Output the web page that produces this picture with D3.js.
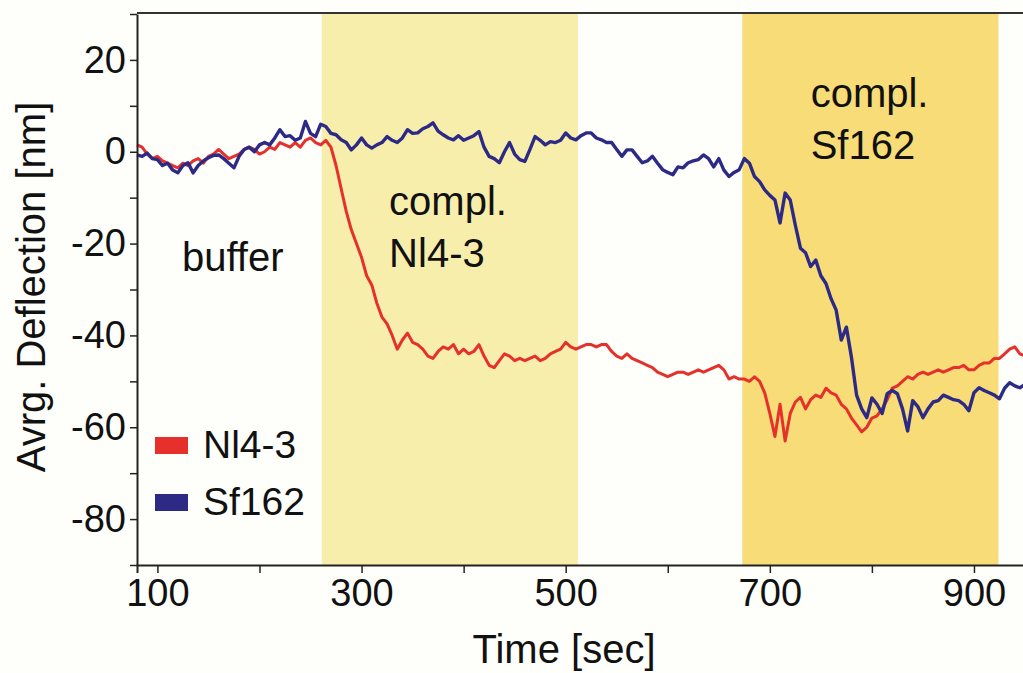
<!DOCTYPE html>
<html>
<head>
<meta charset="utf-8">
<script src="https://cdn.jsdelivr.net/npm/d3@7"></script>
<style>
  html, body { margin: 0; padding: 0; background: #fefefa; }
  svg { display: block; }
  text { font-family: "Liberation Sans", Arial, sans-serif; fill: #111; }
</style>
</head>
<body>
<div id="chart"></div>
<script>
// Time axis samples (sec)
const times = d3.range(80, 951, 5);

// Nl4-3 trace, nm (one value every 5 s)
const nl43 = [
  1.5, 1.0, -0.5, -1.5, -1.0, -2.0, -2.5, -3.0, -3.5, -2.5,
  -3.0, -2.0, -1.5, -2.5, -1.0, -0.5, 0.5, -0.5, -1.5, -1.0,
  -0.5, 0.5, 1.0, 0.5, -0.5, 0.0, 1.0, 0.5, 2.0, 1.5,
  1.0, 2.0, 1.0, 2.5, 3.0, 2.0, 1.5, 2.5, 1.0, -3.0,
  -8.0, -13.0, -17.0, -20.0, -23.0, -27.0, -29.0, -33.0, -36.0, -37.5,
  -40.0, -43.0, -41.0, -39.5, -41.5, -42.0, -43.0, -44.5, -45.0, -43.5,
  -42.5, -43.0, -42.0, -44.0, -43.0, -44.0, -43.5, -42.0, -44.5, -46.5,
  -47.0, -45.5, -44.0, -44.5, -45.5, -45.0, -45.5, -45.0, -44.5, -45.5,
  -45.0, -44.0, -43.5, -43.0, -41.5, -42.5, -43.0, -42.5, -42.0, -42.0,
  -42.5, -42.0, -42.0, -43.5, -44.5, -45.0, -44.0, -45.0, -45.5, -46.0,
  -46.5, -47.0, -48.0, -48.5, -49.0, -48.5, -48.0, -48.0, -48.5, -48.0,
  -47.5, -48.0, -47.5, -47.0, -46.5, -47.5, -49.5, -49.0, -49.5, -49.5,
  -50.0, -49.0, -50.0, -52.5, -57.0, -62.0, -55.0, -63.0, -57.0, -54.5,
  -53.5, -56.0, -54.0, -53.0, -53.5, -51.5, -52.5, -53.0, -55.0, -56.0,
  -58.0, -59.5, -61.0, -60.0, -58.0, -57.5, -56.0, -54.0, -51.5, -51.0,
  -50.0, -49.0, -49.5, -48.5, -48.0, -48.5, -48.0, -47.5, -48.0, -47.5,
  -47.0, -47.0, -46.5, -47.5, -47.5, -46.5, -46.0, -46.0, -45.0, -45.0,
  -44.0, -43.0, -42.5, -44.0, -44.5
];

// Sf162 trace, nm
const sf162 = [
  -0.7, -1.0, -0.3, -1.5, -1.7, -3.0, -2.5, -4.0, -4.6, -3.0,
  -2.4, -4.6, -3.0, -2.0, -1.3, -0.8, -0.7, -1.5, -2.5, -3.5,
  -1.0, 0.5, 1.0, 0.0, 1.5, 2.0, 1.5, 3.0, 4.8, 3.3,
  3.5, 2.5, 3.0, 6.6, 4.0, 3.3, 6.0, 5.5, 4.0, 3.7,
  2.6, 2.0, 0.4, 1.5, 3.0, 1.5, 0.8, 1.5, 2.0, 3.3,
  2.5, 2.0, 3.0, 4.8, 4.0, 4.1, 5.0, 5.5, 6.3, 4.5,
  3.7, 3.0, 2.6, 3.5, 2.5, 3.0, 3.5, 4.4, 1.0, -1.0,
  -1.5, -2.4, 0.0, 2.0, -0.5, -1.7, -2.1, 0.5, 3.3, 2.5,
  1.5, 2.2, 2.0, 2.5, 4.1, 3.0, 2.6, 3.5, 4.1, 4.1,
  3.0, 2.6, 2.0, 2.0, 0.5, -1.0, 0.4, 0.4, -1.0, -2.4,
  -2.0, -1.0, -2.5, -3.9, -4.5, -5.0, -3.3, -3.5, -2.4, -2.0,
  -1.7, -0.7, -1.5, -3.3, -1.5, -4.0, -5.4, -4.5, -3.9, -1.5,
  -2.5, -5.4, -6.5, -8.3, -9.5, -10.5, -15.5, -9.0, -10.5, -16.0,
  -21.0, -22.0, -25.0, -23.6, -27.0, -28.7, -32.0, -34.5, -41.0, -38.2,
  -44.8, -53.0, -56.0, -57.9, -53.6, -55.0, -57.0, -52.7, -52.0, -52.7,
  -56.0, -60.8, -54.2, -55.5, -57.9, -56.0, -54.5, -54.2, -53.0, -53.5,
  -54.0, -54.2, -55.0, -56.4, -52.5, -51.4, -52.0, -52.5, -53.0, -53.8,
  -51.5, -50.3, -51.0, -51.4, -50.7
];

// Injection phases (sec)
const phaseNames = ["compl. Nl4-3", "compl. Sf162"];
const phaseStart = [261, 673];
const phaseEnd = [512, 924];
const phaseColors = ["#f8eeac", "#f7dc78"];

const seriesNames = ["Nl4-3", "Sf162"];
const seriesColors = ["#e5302b", "#2d2a86"];

const xTicks = d3.range(100, 1000, 100);
const yTicks = d3.range(-90, 31, 10);

const width = 1023;
const height = 673;

const svg = d3.select("#chart")
  .append("svg")
  .attr("width", width)
  .attr("height", height);

svg.append("rect")
  .attr("width", width)
  .attr("height", height)
  .attr("fill", "#fefefa");

const x = d3.scaleLinear().domain([80, 950]).range([137, 1025]);
const y = d3.scaleLinear().domain([-90, 30]).range([565, 14]);

// shaded phases
svg.selectAll(".phase")
  .data(phaseStart)
  .enter()
  .append("rect")
  .attr("class", "phase")
  .attr("x", d => x(d))
  .attr("y", y(30))
  .attr("width", (d, i) => x(phaseEnd[i]) - x(d))
  .attr("height", y(-90) - y(30))
  .attr("fill", (d, i) => phaseColors[i]);

// traces
const line = d3.line()
  .x((d, i) => x(times[i]))
  .y(d => y(d));

svg.append("g")
  .selectAll("path")
  .data([nl43, sf162])
  .enter()
  .append("path")
  .attr("d", line)
  .attr("fill", "none")
  .attr("stroke", (d, i) => seriesColors[i])
  .attr("stroke-width", (d, i) => i === 0 ? 3 : 3.4)
  .attr("stroke-linejoin", "round");

// axes
const xAxis = d3.axisBottom(x)
  .tickValues(xTicks)
  .tickSize(8)
  .tickPadding(6)
  .tickFormat(d => (d % 200 === 100 ? d : ""));

const gx = svg.append("g")
  .attr("transform", `translate(0,${y(-90)})`)
  .call(xAxis);
gx.select(".domain").attr("stroke", "#222").attr("stroke-width", 2);
gx.selectAll(".tick line").attr("stroke", "#222").attr("stroke-width", 1.5);
gx.selectAll("text")
  .style("font-size", "38px")
  .style("font-family", "'Liberation Sans', Arial, sans-serif")
  .attr("fill", "#111");

const yAxis = d3.axisLeft(y)
  .tickValues(yTicks)
  .tickSize(7)
  .tickPadding(4)
  .tickSizeOuter(0)
  .tickFormat(d => (d % 20 === 0 ? d : ""));

const gy = svg.append("g")
  .attr("transform", `translate(${x(80)},0)`)
  .call(yAxis);
gy.select(".domain").attr("stroke", "#222").attr("stroke-width", 2);
gy.selectAll(".tick line").attr("stroke", "#222").attr("stroke-width", 1.5);
gy.selectAll("text")
  .style("font-size", "38px")
  .style("font-family", "'Liberation Sans', Arial, sans-serif")
  .attr("fill", "#111");

// top frame line
svg.append("line")
  .attr("x1", x(80))
  .attr("x2", width)
  .attr("y1", y(30) - 1)
  .attr("y2", y(30) - 1)
  .attr("stroke", "#333")
  .attr("stroke-width", 2);

// axis titles
svg.append("text")
  .attr("x", (x(80) + width) / 2 - 16)
  .attr("y", 663)
  .attr("text-anchor", "middle")
  .style("font-size", "40px")
  .text("Time [sec]");

svg.append("text")
  .attr("transform", "translate(45,287) rotate(-90)")
  .attr("text-anchor", "middle")
  .style("font-size", "40px")
  .text("Avrg. Deflection [nm]");

// region annotations
svg.append("text")
  .attr("x", x(124))
  .attr("y", y(-26))
  .style("font-size", "40px")
  .text("buffer");

const phaseLabel = svg.selectAll(".phaseLabel")
  .data(phaseNames)
  .enter()
  .append("text")
  .attr("class", "phaseLabel")
  .attr("x", (d, i) => i === 0 ? x(327) : x(740))
  .attr("y", (d, i) => i === 0 ? 215 : 107)
  .style("font-size", "40px");

phaseLabel.append("tspan")
  .text(d => d.split(" ")[0]);
phaseLabel.append("tspan")
  .attr("x", (d, i) => i === 0 ? x(327) : x(740))
  .attr("dy", 52)
  .text(d => d.split(" ")[1]);

// legend
const legend = svg.append("g")
  .attr("transform", "translate(155,437)");

legend.selectAll("rect")
  .data(seriesNames)
  .enter()
  .append("rect")
  .attr("x", 0)
  .attr("y", (d, i) => i * 57)
  .attr("width", 33)
  .attr("height", 17)
  .attr("fill", (d, i) => seriesColors[i]);

legend.selectAll("text")
  .data(seriesNames)
  .enter()
  .append("text")
  .attr("x", 48)
  .attr("y", (d, i) => i * 57 + 21)
  .style("font-size", "39px")
  .text(d => d);
</script>
</body>
</html>
